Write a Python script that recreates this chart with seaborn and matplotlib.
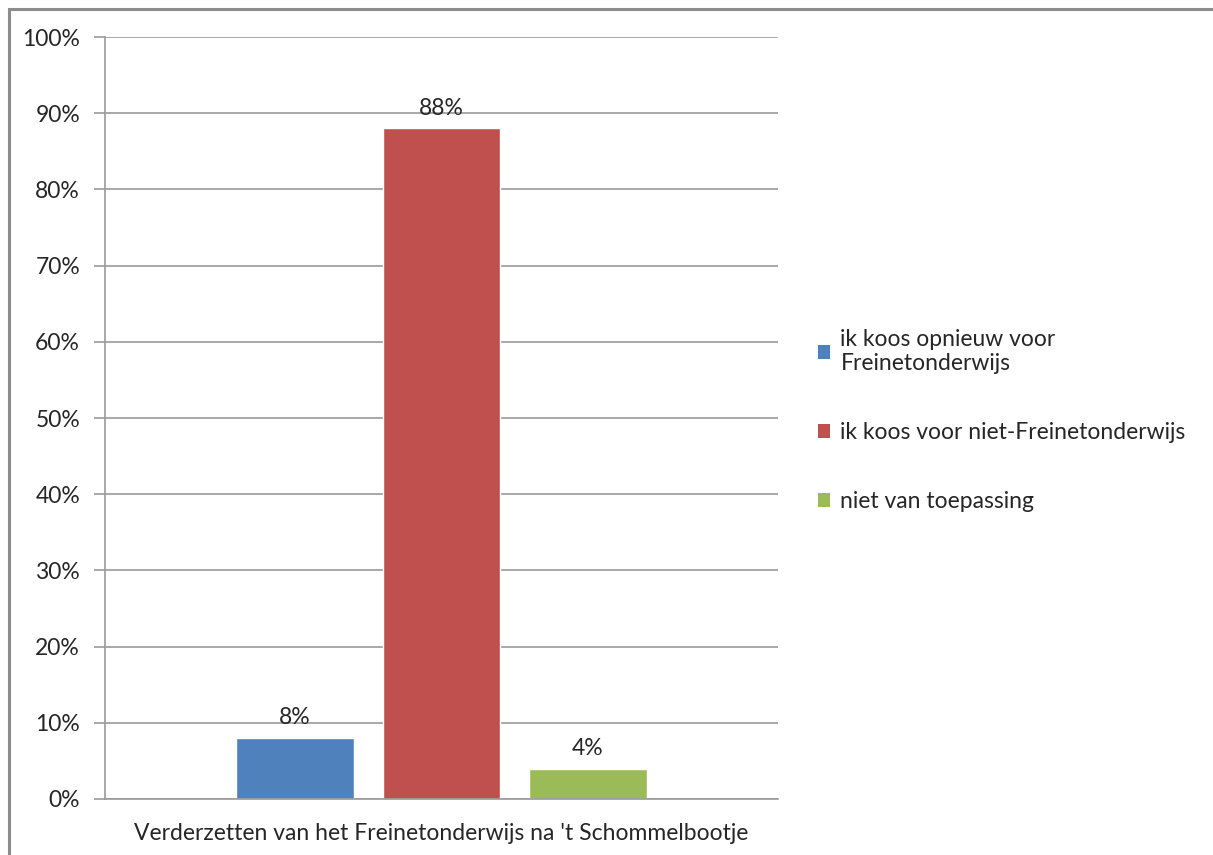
import matplotlib
matplotlib.use('Agg')
import matplotlib.pyplot as plt
from matplotlib.patches import Rectangle, Patch
from matplotlib.ticker import PercentFormatter
import seaborn as sns
import pandas as pd

# ── data ─────────────────────────────────────────────────────────────
category = "Verderzetten van het Freinetonderwijs na 't Schommelbootje"
answers = ['ik koos opnieuw voor\nFreinetonderwijs',
           'ik koos voor niet-Freinetonderwijs',
           'niet van toepassing']
shares = [8, 88, 4]
colors = ['#4F81BD', '#C0504D', '#9BBB59']

df = pd.DataFrame({'cat': [category] * 3, 'antwoord': answers, 'pct': shares})

sns.set_theme(style='white')
plt.rcParams['font.family'] = ['Lato', 'DejaVu Sans']
FS = 16.5

fig = plt.figure(figsize=(12.13, 8.55), dpi=100)
ax = fig.add_axes([0.0866, 0.0655, 0.5548, 0.8912])

sns.barplot(data=df, x='cat', y='pct', hue='antwoord', hue_order=answers,
            palette=colors, width=0.653, gap=0.2, saturation=1,
            legend=False, ax=ax)

for cont in ax.containers:
    ax.bar_label(cont, fmt='%d%%', padding=7, fontsize=FS, color='#262626')

ax.set_ylim(0, 100)
ax.set_yticks(range(0, 101, 10))
ax.yaxis.set_major_formatter(PercentFormatter(decimals=0))
ax.grid(axis='y', color='#9A9A9A', lw=1.2)
ax.set_axisbelow(True)
ax.set_xlabel(''); ax.set_ylabel('')
for s in ['top', 'right']:
    ax.spines[s].set_visible(False)
for s in ['left', 'bottom']:
    ax.spines[s].set_color('#9A9A9A')
    ax.spines[s].set_linewidth(1.2)
ax.tick_params(axis='y', left=True, length=8, width=1.2, color='#9A9A9A',
               labelsize=FS, labelcolor='#262626', pad=10)
ax.tick_params(axis='x', bottom=False, labelsize=FS, labelcolor='#262626', pad=11)

handles = [Patch(facecolor=c, edgecolor='none') for c in colors]
fig.legend(handles, answers, loc='center left', bbox_to_anchor=(0.657, 0.508),
           frameon=False, fontsize=FS, handlelength=0.55, handleheight=0.55,
           handletextpad=0.45, labelspacing=2.1, labelcolor='#262626')

# outer chart border (top and left visible)
fig.patches.append(Rectangle((9 / 1213, -0.1), 1.2, 1.1 - 9 / 855,
                             transform=fig.transFigure, fill=False,
                             edgecolor='#8C8C8C', lw=2.2))

fig.savefig('out.png', dpi=100)
